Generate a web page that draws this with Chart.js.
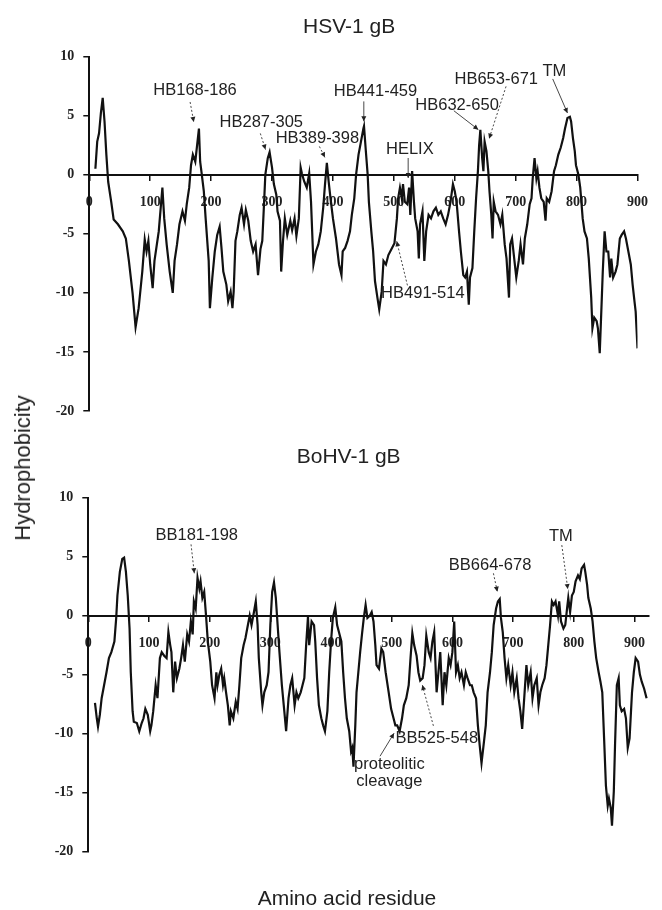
<!DOCTYPE html>
<html>
<head>
<meta charset="utf-8">
<script src="https://cdn.jsdelivr.net/npm/chart.js@4.4.1/dist/chart.umd.min.js"></script>
<style>
body{margin:0;background:#fff;}
#wrap{position:relative;width:662px;height:910px;overflow:hidden;background:#fff;}
canvas{position:absolute;left:0;}
#c1{top:0;}
#c2{top:425px;}
.lab{position:absolute;font-family:"Liberation Sans",Arial,sans-serif;font-size:21px;color:#222;white-space:nowrap;}
#ylab{left:23px;top:468px;font-size:22px;transform:translate(-50%,-50%) rotate(-90deg);}
#xlab{left:347px;top:898px;transform:translate(-50%,-50%);}
</style>
</head>
<body>
<div id="wrap">
  <canvas id="c1" width="662" height="455"></canvas>
  <canvas id="c2" width="662" height="485"></canvas>
  <div class="lab" id="ylab">Hydrophobicity</div>
  <div class="lab" id="xlab">Amino acid residue</div>
</div>
<script>
// ---------- HSV-1 gB ----------
var hsvRes = [10,13,16,19,22,25,28,31,36,40,
  47,55,60,65,71,76,81,87,91,94,
  97,100,104,107,114,120,123,127,132,137,
  140,144,148,153,157,160,164,167,170,174,
  177,180,182,184,188,191,196,198,202,206,
  210,214,217,220,225,228,232,235,237,240,
  243,247,250,254,257,261,265,269,273,277,
  281,284,287,289,293,296,300,303,307,309,
  313,315,318,321,325,330,333,337,340,344,
  347,349,353,357,361,364,368,372,376,380,
  384,387,390,393,396,400,405,410,414,416,
  420,424,428,431,435,438,442,446,450,451,
  454,457,459,463,466,469,473,476,480,483,
  487,491,497,501,505,507,510,513,515,518,
  522,525,527,530,533,535,539,541,543,547,
  550,553,557,561,565,569,573,577,581,585,
  589,593,597,600,603,607,610,614,617,620,
  623,625,629,632,635,638,640,642,645,647,
  649,652,655,657,660,662,664,667,671,675,
  678,682,685,689,691,694,698,701,705,708,
  712,715,719,723,726,728,731,734,736,739,
  742,746,749,751,755,759,763,766,770,774,
  778,781,785,789,791,794,797,799,803,806,
  810,813,817,820,824,826,829,833,835,838,
  841,843,846,849,852,855,857,860,864,867,
  871,874,878,881,885,889,892,895,897,900];
var hsvVal = [0.5,2.8,3.5,5.2,6.5,4.5,1.7,-0.6,-2.3,-3.8,
  -4.2,-4.8,-5.4,-7.3,-10.0,-12.9,-11.3,-8.2,-5.5,-6.5,
  -5.6,-7.6,-9.6,-7.3,-4.8,-1.1,-3.7,-5.9,-8.2,-10.0,
  -7.3,-5.9,-4.2,-3.1,-3.9,-2.5,-1.1,0.8,1.7,1.1,
  2.5,3.9,1.1,0.3,-1.4,-3.7,-7.3,-11.3,-8.7,-6.5,
  -5.1,-4.4,-6.2,-8.2,-9.3,-10.7,-9.9,-11.3,-9.9,-5.6,
  -4.8,-3.4,-2.8,-4.2,-3.0,-3.9,-5.6,-6.5,-5.9,-8.5,
  -6.3,-5.6,-2.3,0,1.4,1.9,0.6,-0.8,-1.7,-3.1,
  -3.9,-8.2,-5.6,-3.7,-5.1,-3.9,-4.7,-3.7,-5.2,-3.7,
  0.6,0.1,-0.6,-1.1,0.1,-2.3,-7.6,-6.5,-5.9,-4.8,
  -2.8,-0.8,1.0,-0.6,-2.0,-3.7,-5.4,-7.6,-8.5,-6.5,
  -6.2,-5.6,-4.8,-3.4,-2.0,0,1.7,2.8,3.9,4.1,
  2.0,0,-2.3,-4.8,-6.5,-9.0,-10.4,-11.4,-9.9,-7.3,
  -7.6,-6.8,-6.2,-5.8,-3.7,-2.0,-1.1,-2.0,-0.8,-2.3,
  -2.5,-1.1,-3.4,0.3,-2.3,-3.7,-4.8,-7.1,-4.2,-3.1,
  -7.3,-4.8,-3.4,-3.7,-3.1,-2.8,-3.4,-3.1,-3.7,-4.2,
  -3.4,-2.3,-0.8,-1.4,-2.3,-4.8,-6.5,-8.5,-8.7,-8.2,
  -11.0,-8.7,-7.9,-4.8,-2.0,0.3,2.5,3.8,1.4,0.3,
  2.8,2.0,0.3,-1.4,-3.4,-5.4,-2.3,-3.1,-3.4,-4.2,
  -3.4,-5.9,-7.1,-10.4,-5.9,-5.4,-7.3,-8.7,-7.3,-5.9,
  -7.6,-5.4,-4.2,-2.5,-2.0,-0.3,1.4,-0.3,0.3,-1.1,
  -2.0,-2.3,-3.9,-2.0,-2.3,-1.4,0.3,0.8,1.7,2.3,
  3.1,3.9,4.8,4.9,4.5,3.1,2.0,0.8,0,-1.1,
  -3.7,-4.8,-5.4,-7.1,-10.4,-13.0,-12.1,-12.4,-13.0,-15.1,
  -11.0,-8.2,-4.8,-6.5,-6.5,-8.7,-7.1,-8.7,-8.2,-7.6,
  -5.4,-5.1,-4.8,-5.4,-6.5,-7.6,-9.3,-10.7,-11.6,-14.7];

// ---------- BoHV-1 gB ----------
var bohvRes = [11,14,16,19,22,26,30,34,38,43,
  46,48,52,56,59,62,65,68,70,73,
  75,80,84,88,91,94,98,102,104,107,
  111,114,118,121,125,129,132,135,137,140,
  143,146,150,153,156,159,163,166,169,172,
  174,177,180,183,185,188,191,194,197,201,
  204,208,211,213,216,219,222,224,227,230,
  233,235,239,243,246,249,252,256,259,263,
  266,269,273,276,279,281,285,287,290,294,
  297,300,303,306,309,312,315,319,323,326,
  330,333,336,340,343,346,350,353,356,359,
  362,364,368,372,374,377,380,384,387,390,
  394,397,400,403,407,410,413,417,420,423,
  426,430,433,435,437,440,442,445,448,451,
  454,457,460,464,467,470,473,475,479,483,
  486,490,495,499,503,506,509,513,517,520,
  524,528,531,534,537,541,544,547,551,554,
  557,561,564,567,570,574,577,580,584,587,
  590,594,597,600,603,606,609,612,615,619,
  622,625,629,632,635,639,642,645,648,652,
  655,658,662,665,668,672,675,678,680,683,
  686,689,692,696,699,702,706,709,712,715,
  719,722,725,729,732,735,739,742,745,748,
  752,755,758,761,764,767,770,774,776,779,
  783,786,789,791,794,797,800,803,807,810,
  813,817,819,822,824,828,831,834,837,841,
  844,847,850,853,856,858,861,863,866,868,
  871,874,876,879,883,886,889,892,896,899,
  902,906,909,912,916,920];
var bohvVal = [-7.4,-8.7,-9.4,-8.4,-7.0,-5.9,-4.8,-3.6,-3.1,-2.2,
  -0.2,1.7,3.7,4.8,4.9,3.7,1.7,-1.1,-4.8,-8.1,
  -9.0,-9.1,-9.8,-9.1,-8.7,-7.9,-8.4,-9.8,-9.3,-8.1,
  -5.9,-7.0,-3.6,-3.1,-3.4,-3.6,-1.4,-2.5,-3.1,-6.5,
  -3.9,-5.3,-4.5,-3.6,-2.5,-3.9,-1.6,-2.2,-0.5,-1.6,
  1.2,0.6,3.2,2.3,2.9,1.5,2.0,0,-2.2,-3.9,
  -5.9,-7.0,-4.8,-5.9,-5.0,-4.5,-5.9,-5.3,-6.5,-7.6,
  -9.3,-8.1,-8.7,-7.3,-7.9,-5.9,-3.6,-2.5,-1.9,-0.8,
  0,-0.8,0.3,1.2,-0.8,-3.6,-6.5,-7.6,-6.5,-5.9,
  -4.8,-0.8,2.0,2.8,1.5,-0.8,-3.1,-5.9,-8.1,-9.8,
  -7.0,-5.9,-5.3,-7.6,-6.5,-7.0,-6.5,-5.9,-5.3,-2.5,
  -0.1,-2.5,-0.5,-0.8,-2.2,-5.3,-7.6,-8.7,-9.3,-9.8,
  -8.1,-4.8,-2.2,-0.2,0.7,-0.8,-1.4,-2.2,-4.8,-7.0,
  -8.7,-9.8,-11.5,-11.2,-12.8,-9.3,-6.5,-4.8,-3.1,-1.6,
  -0.2,0.9,-0.2,0,0.3,-0.5,-2.5,-4.2,-4.5,-2.8,
  -3.1,-4.8,-6.5,-7.9,-8.7,-9.3,-9.3,-9.8,-8.7,-7.6,
  -7.0,-5.9,-3.6,-1.5,-2.5,-3.4,-4.8,-5.5,-5.3,-4.2,
  -1.7,-3.1,-3.6,-2.2,-1.4,-6.5,-4.8,-3.1,-7.6,-4.8,
  -5.9,-3.6,-4.2,-3.1,-0.5,-4.8,-4.2,-5.3,-4.8,-5.9,
  -4.8,-5.3,-5.9,-5.9,-6.5,-7.0,-9.3,-11.0,-12.5,-10.7,
  -9.3,-6.5,-4.8,-3.1,-0.8,0.6,1.2,1.4,-0.2,-1.4,
  -3.6,-5.3,-4.2,-5.9,-4.8,-6.5,-5.3,-7.0,-8.1,-9.6,
  -6.5,-4.2,-5.9,-4.8,-7.0,-5.9,-5.3,-7.6,-6.5,-5.9,
  -5.3,-4.2,-2.5,-0.8,1.2,0.9,1.2,0,1.2,-0.5,
  -1.1,-0.8,0.6,1.5,0.3,1.7,2.0,2.9,3.4,3.1,
  4.0,4.3,3.7,2.6,1.5,0.6,-0.5,-2.2,-3.6,-4.8,
  -5.6,-6.5,-10.4,-14.4,-16.1,-15.5,-16.3,-17.8,-14.9,-11.0,
  -5.9,-5.3,-7.6,-8.1,-7.9,-8.7,-11.2,-10.4,-6.5,-4.8,
  -3.6,-3.9,-5.0,-5.6,-6.2,-7.0];

// labels on the plots: text + where it sits, arrows go from -> to (in data units)
var hsvNotes = [
  {text:'HB168-186', x:173.6, y:7.13,  from:[165.5,6.15], to:[171.5,4.46], dash:true},
  {text:'HB287-305', x:282.4, y:4.46,  from:[280.8,3.49], to:[289.3,2.12], dash:true},
  {text:'HB389-398', x:374.5, y:3.10,  from:[377.7,2.39], to:[386.9,1.46], dash:true},
  {text:'HB441-459', x:469.8, y:7.02,  from:[450.7,6.2],  to:[450.7,4.51], dash:false},
  {text:'HELIX',     x:526.2, y:2.12,  from:[523.5,1.41], to:[523.5,-0.28], dash:false},
  {text:'HB632-650', x:603.8, y:5.84,  from:[598.5,5.41], to:[638.7,3.81], dash:false},
  {text:'HB653-671', x:668.1, y:8.04,  from:[684.2,7.47], to:[656.4,3.05], dash:true},
  {text:'TM',        x:763.4, y:8.74,  from:[760.8,8.10], to:[785,5.22],   dash:false},
  {text:'HB491-514', x:547.6, y:-10.09,from:[522.3,-9.37],to:[504.7,-5.64],dash:true}
];
var bohvNotes = [
  {text:'BB181-198', x:178.7, y:6.82,  from:[169.3,6.03], to:[174.7,3.58], dash:true},
  {text:'BB664-678', x:662.1, y:4.28,  from:[667.6,3.58], to:[674.1,2.02], dash:true},
  {text:'TM',        x:778.7, y:6.68,  from:[780.3,5.97], to:[790.2,2.25], dash:true},
  {text:'BB525-548', x:574.3, y:-10.41,from:[568.7,-9.34],to:[550.5,-5.89],dash:true},
  {text:'proteolitic',x:496.1,y:-12.61,from:[480.8,-11.91],to:[503.9,-9.96],dash:false},
  {text:'cleavage',  x:496.1, y:-14.08}
];

var tickFont = {family:'"Liberation Serif", "Times New Roman", serif', size:14, weight:'bold'};

// draws the annotation texts and arrows
var notesPlugin = {
  id:'notes',
  afterDatasetsDraw: function(chart, args, opts){
    var ctx = chart.ctx, sx = chart.scales.x, sy = chart.scales.y;
    var list = opts.items || [];
    ctx.save();
    ctx.font = '16.5px "Liberation Sans", Arial, sans-serif';
    ctx.fillStyle = '#222';
    ctx.textAlign = 'center';
    ctx.textBaseline = 'middle';
    for(var i=0;i<list.length;i++){
      var n = list[i];
      ctx.fillStyle = '#222';
      ctx.fillText(n.text, sx.getPixelForValue(n.x), sy.getPixelForValue(n.y));
      if(!n.from) continue;
      var x1 = sx.getPixelForValue(n.from[0]), y1 = sy.getPixelForValue(n.from[1]);
      var x2 = sx.getPixelForValue(n.to[0]), y2 = sy.getPixelForValue(n.to[1]);
      ctx.strokeStyle = '#333';
      ctx.lineWidth = 0.9;
      ctx.setLineDash(n.dash ? [2,2] : []);
      ctx.beginPath(); ctx.moveTo(x1,y1); ctx.lineTo(x2,y2); ctx.stroke();
      ctx.setLineDash([]);
      var a = Math.atan2(y2-y1, x2-x1);
      ctx.beginPath();
      ctx.moveTo(x2,y2);
      ctx.lineTo(x2-5*Math.cos(a)+2.5*Math.sin(a), y2-5*Math.sin(a)-2.5*Math.cos(a));
      ctx.lineTo(x2-5*Math.cos(a)-2.5*Math.sin(a), y2-5*Math.sin(a)+2.5*Math.cos(a));
      ctx.closePath(); ctx.fill();
    }
    ctx.restore();
  }
};

function makeChart(id, res, val, xMax, title, titlePad, pad, notes){
  var pts = [];
  for(var i=0;i<res.length;i++) pts.push({x:res[i], y:val[i]});
  return new Chart(document.getElementById(id), {
    type:'line',
    data:{datasets:[{data:pts, borderColor:'#111', borderWidth:2.2, pointRadius:0, tension:0, fill:false}]},
    options:{
      responsive:false, animation:false, devicePixelRatio:1,
      layout:{padding:pad},
      plugins:{
        legend:{display:false},
        tooltip:{enabled:false},
        title:{display:true, text:title, color:'#222',
          font:{family:'"Liberation Sans", Arial, sans-serif', size:21, weight:'normal'},
          padding:titlePad},
        notes:{items:notes}
      },
      scales:{
        x:{type:'linear', min:0, max:xMax, position:{y:0},
          border:{display:true, color:'#111', width:2},
          grid:{drawOnChartArea:false, drawTicks:true, tickLength:5, color:'#111', lineWidth:1.5},
          ticks:{stepSize:100, includeBounds:false, autoSkip:false, maxRotation:0, padding:14,
            color:'#222', font:tickFont}},
        y:{min:-20, max:10, position:'left',
          afterFit:function(s){ s.width = 40; },
          border:{display:true, color:'#111', width:2},
          grid:{drawOnChartArea:false, tickLength:6, color:'#111', lineWidth:1.5},
          ticks:{stepSize:5, padding:9, color:'#222', font:tickFont}}
      }
    },
    plugins:[notesPlugin]
  });
}

makeChart('c1', hsvRes, hsvVal, 900, 'HSV-1 gB', {top:14.4, bottom:16.9},
  {left:49.3, right:13, top:0, bottom:44}, hsvNotes);
makeChart('c2', bohvRes, bohvVal, 924, 'BoHV-1 gB', {top:19.4, bottom:27.9},
  {left:48.3, right:13, top:0, bottom:58.3}, bohvNotes);
</script>
</body>
</html>
